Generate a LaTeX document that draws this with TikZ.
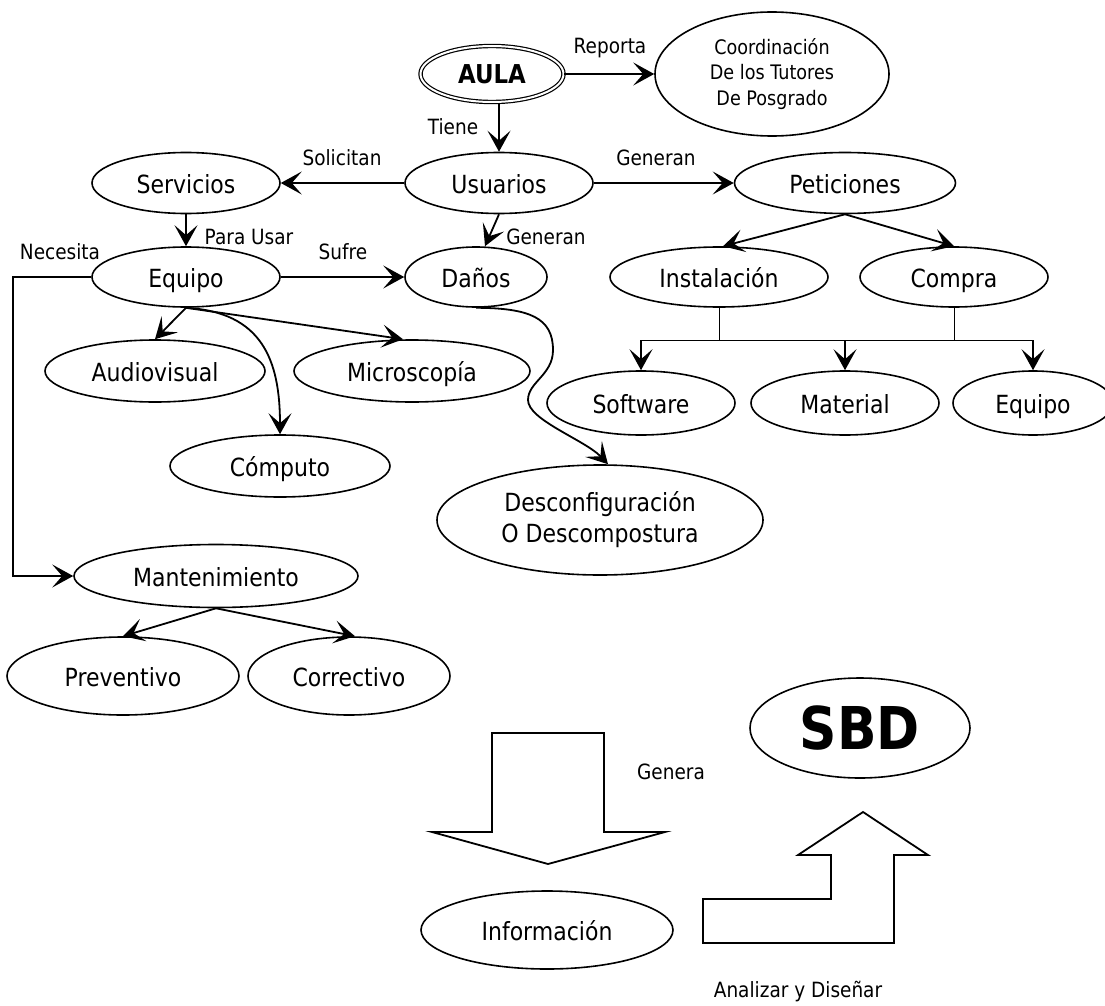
\documentclass[tikz,border=0pt]{standalone}
\usepackage{fontspec}
\setmainfont{DejaVu Sans}[FakeStretch=0.88]
\usetikzlibrary{shapes.geometric,arrows.meta}

\begin{document}
\begin{tikzpicture}[x=1pt,y=-1pt,
  oval/.style={draw,ellipse,line width=1.6pt,inner sep=0pt,align=center,
    font=\fontsize{25}{31}\selectfont},
  sline/.style={text height=20pt,text depth=0pt},
  lbl/.style={inner sep=0pt,font=\fontsize{21}{25}\selectfont},
  link/.style={line width=1.8pt,-{Stealth[length=21pt,width=23pt,inset=10pt]}},
  thinline/.style={line width=1pt},
  block/.style={line width=1.8pt,line join=miter}]

\useasboundingbox (0,0) rectangle (1105,1006);

% ---- nodes ----
\node[oval,sline,double,double distance=2pt,line width=1.2pt,minimum width=143pt,minimum height=56pt,
      font=\bfseries\fontsize{26}{30}\selectfont] (aula) at (492,74) {AULA};
\node[oval,minimum width=234pt,minimum height=124pt,font=\fontsize{20}{25.5}\selectfont]
      (coord) at (772,74) {Coordinación\\De los Tutores\\De Posgrado};

\node[oval,sline,minimum width=188pt,minimum height=61pt] (usu)  at (499,183) {Usuarios};
\node[oval,sline,minimum width=188pt,minimum height=61pt] (serv) at (186,183) {Servicios};
\node[oval,sline,minimum width=221pt,minimum height=61pt] (pet)  at (845,183) {Peticiones};

\node[oval,sline,minimum width=188pt,minimum height=60pt] (equ)  at (186,277) {Equipo};
\node[oval,sline,minimum width=142pt,minimum height=60pt] (dan)  at (476,277) {Daños};
\node[oval,sline,minimum width=218pt,minimum height=60pt] (inst) at (719,277) {Instalación};
\node[oval,sline,minimum width=188pt,minimum height=60pt] (comp) at (954,277) {Compra};

\node[oval,sline,minimum width=220pt,minimum height=62pt] (audio) at (155,371) {Audiovisual};
\node[oval,sline,minimum width=236pt,minimum height=62pt] (micro) at (412,371) {Microscopía};
\node[oval,sline,minimum width=220pt,minimum height=62pt] (cmpt)  at (280,466) {Cómputo};

\node[oval,sline,minimum width=188pt,minimum height=64pt] (soft) at (641,403) {Software};
\node[oval,sline,minimum width=188pt,minimum height=64pt] (mat)  at (845,403) {Material};
\node[oval,sline,minimum width=160pt,minimum height=64pt] (equb) at (1033,403) {Equipo};

\node[oval,minimum width=326pt,minimum height=110pt] (desc) at (600,520)
      {Desconfiguración\\O Descompostura};

\node[oval,sline,minimum width=284pt,minimum height=63pt] (mant) at (216,576) {Mantenimiento};
\node[oval,sline,minimum width=232pt,minimum height=78pt] (prev) at (123,676) {Preventivo};
\node[oval,sline,minimum width=202pt,minimum height=78pt] (corr) at (349,676) {Correctivo};

\node[oval,minimum width=220pt,minimum height=100pt,text height=43pt,text depth=0pt,
      font=\bfseries\fontsize{59}{64}\selectfont] (sbd) at (860,728) {SBD};
\node[oval,sline,minimum width=252pt,minimum height=78pt] (info) at (547,930) {Información};

% ---- connector labels ----
\node[lbl] (lrep) at (610,48)  {Reporta};
\node[lbl] (ltie) at (453,127) {Tiene};
\node[lbl] (lsol) at (342,158) {Solicitan};
\node[lbl] (lgen) at (656,158) {Generan};
\node[lbl] (lpar) at (249,237) {Para Usar};
\node[lbl] (lgen2) at (546,237) {Generan};
\node[lbl] (lnec) at (60,252)  {Necesita};
\node[lbl] (lsuf) at (343,252) {Sufre};
\node[lbl] (lgna) at (671,772) {Genera};
\node[lbl] (lana) at (798,992) {Analizar y Diseñar};

% ---- connectors ----
\draw[link] (aula.east) -- (coord.west);
\draw[link] (aula.south -| usu.north) -- (usu.north);
\draw[link] (usu.west) -- (serv.east);
\draw[link] (usu.east) -- (pet.west);
\draw[link] (serv.south) -- (equ.north);
\draw[link] (usu.south) -- ([xshift=9pt]dan.north);
\draw[link] (equ.east) -- (dan.west);
\draw[link] (pet.south) -- ([xshift=4pt]inst.north);
\draw[link] (pet.south) -- (comp.north);

\draw[link] (equ.south) -- (audio.north);
\draw[link] (equ.south) -- ([xshift=-9pt]micro.north);
\draw[link] (equ.south) .. controls (262,312) and (280,360) .. (cmpt.north);

\draw[link] (dan.south) .. controls (530,308) and (553,318) .. (553,350)
            .. controls (553,375) and (528,382) .. (528,400)
            .. controls (528,420) and (585,440) .. ([xshift=8pt]desc.north);

% purchase / installation tree
\coordinate (busL) at (641,340);
\coordinate (busR) at (1033,340);
\draw[thinline] (busL) -- (busR);
\draw[thinline] (inst.south) -- (inst.south |- busL);
\draw[thinline] (comp.south) -- (comp.south |- busL);
\draw[link] (busL) -- (soft.north);
\draw[link] (mat.north |- busL) -- (mat.north);
\draw[link] (busR) -- (equb.north);

% maintenance branch
\coordinate (necbend) at (13,576);
\draw[link] (equ.west) -| (necbend) -- (mant.west);
\draw[link] (mant.south) -- (prev.north);
\draw[link] (mant.south) -- ([xshift=6pt]corr.north);

% ---- block arrows ----
\draw[block] (492,733) -- (604,733) -- (604,832) -- (665,832) -- (548,864)
             -- (432,832) -- (492,832) -- cycle;
\draw[block] (703,943) -- (703,899) -- (831,899) -- (831,855) -- (798,855)
             -- (863,812) -- (928,855) -- (894,855) -- (894,943) -- cycle;

\end{tikzpicture}
\end{document}
